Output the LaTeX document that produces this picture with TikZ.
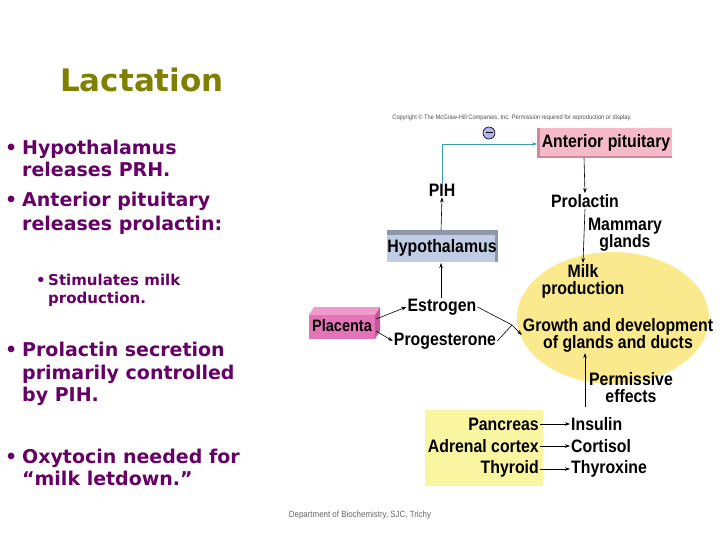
\documentclass[tikz,border=0pt]{standalone}
\usepackage{fontspec}
\usetikzlibrary{arrows.meta}
\newfontfamily\dfont[FakeStretch=0.88]{Liberation Sans}
\newfontfamily\lfont{DejaVu Sans}
\definecolor{olivet}{HTML}{7F7F00}
\definecolor{purp}{HTML}{660066}
\definecolor{appink}{HTML}{F6B9C9}
\definecolor{apdark}{HTML}{C98A9C}
\definecolor{hyblue}{HTML}{C0CCE3}
\definecolor{hydark}{HTML}{8C97AD}
\definecolor{plfront}{HTML}{E474B6}
\definecolor{pltop}{HTML}{EE9ACB}
\definecolor{plside}{HTML}{C2579A}
\definecolor{milky}{HTML}{FBE98D}
\definecolor{paley}{HTML}{FAF5A0}
\definecolor{teal1}{HTML}{3A9BAE}
\begin{document}
\begin{tikzpicture}[x=1pt,y=-1pt,
  lbl/.style={font=\dfont\bfseries\fontsize{18}{17}\selectfont, inner sep=1pt, align=center},
  bul/.style={anchor=base west, inner sep=0pt, text=purp, font=\lfont\bfseries\fontsize{19}{19}\selectfont},
  sbul/.style={anchor=base west, inner sep=0pt, text=purp, font=\lfont\bfseries\fontsize{15}{15}\selectfont},
  arr/.style={-{Stealth[length=5pt,width=3.5pt]}, line width=0.6pt},
  ln/.style={line width=0.6pt}]
\useasboundingbox (0,0) rectangle (720,540);
% title
\node[anchor=base, text=olivet, font=\lfont\bfseries\fontsize{31}{31}\selectfont, inner sep=0pt] (title) at (142,92) {Lactation};
% left bullets
\node[bul] (b1a) at (5,155) {•};
\node[bul] (t1a) at (22,155) {Hypothalamus};
\node[bul] (t1b) at (22,177) {releases PRH.};
\node[bul] (b2a) at (5,207) {•};
\node[bul] (t2a) at (22,207) {Anterior pituitary};
\node[bul] (t2b) at (22,230) {releases prolactin:};
\node[sbul] (b3a) at (36,285) {•};
\node[sbul] (t3a) at (48,285) {Stimulates milk};
\node[sbul] (t3b) at (48,303) {production.};
\node[bul] (b4a) at (5,356) {•};
\node[bul] (t4a) at (22,356) {Prolactin secretion};
\node[bul] (t4b) at (22,379) {primarily controlled};
\node[bul] (t4c) at (22,401) {by PIH.};
\node[bul] (b5a) at (5,463) {•};
\node[bul] (t5a) at (22,463) {Oxytocin needed for};
\node[bul] (t5b) at (22,485) {“milk letdown.”};
% copyright
\node[font=\dfont\fontsize{6.5}{6.5}\selectfont, text=black!70, inner sep=0pt] (copy) at (512,118) {Copyright © The McGraw-Hill Companies, Inc. Permission required for reproduction or display.};
% anterior pituitary box
\fill[apdark] (537,128) rectangle (672,158);
\fill[appink] (540,128) rectangle (672,156);
\node[lbl] (ap) at (606,143) {Anterior pituitary};
\coordinate (apw) at (537,144);
\coordinate (aps) at (584,158);
% minus
\node[circle, draw=black, fill=black!25!blue!30!white, minimum size=12pt, inner sep=0pt, line width=0.6pt] (minus) at (489,133) {};
\draw[line width=1pt] (485.5,133) -- (492.5,133);
% hypothalamus box
\fill[hydark] (387,230) rectangle (498,262);
\fill[hyblue] (387,235) rectangle (495,262);
\node[lbl] (hyp) at (442,248) {Hypothalamus};
\coordinate (hypn) at (441,230);
\coordinate (hyps) at (441,263);
% PIH
\node[lbl] (pih) at (442,190) {PIH};
% placenta box
\fill[pltop] (309,315) -- (314,307) -- (380,307) -- (375,315) -- cycle;
\fill[plside] (375,315) -- (380,307) -- (380,331) -- (375,339) -- cycle;
\fill[plfront] (309,315) rectangle (375,339);
\node[lbl, font=\dfont\bfseries\fontsize{16.5}{16}\selectfont, inner sep=0pt] (plac) at (342,326) {Placenta};
\coordinate (placa) at (376,319);
\coordinate (placb) at (376,331);
% estrogen, progesterone
\node[lbl] (estr) at (442,307) {Estrogen};
\node[lbl] (prog) at (445,341) {Progesterone};
\coordinate (merge) at (512,325);
% ellipse
\fill[milky] (613,318) ellipse [x radius=96, y radius=66];
\node[lbl] (prol) at (585,201) {Prolactin};
\node[lbl] (mam) at (625,235) {Mammary\\glands};
\node[lbl] (milk) at (583,281) {Milk\\production};
\node[lbl] (grow) at (618,335) {Growth and development\\of glands and ducts};
\node[lbl] (perm) at (631,388) {Permissive\\effects};
\coordinate (permb) at (585,407);
% yellow rect
\fill[paley] (425,410) rectangle (543,486);
\node[lbl, anchor=east] (panc) at (540,424) {Pancreas};
\node[lbl, anchor=east] (adre) at (540,446) {Adrenal cortex};
\node[lbl, anchor=east] (thyr) at (540,469) {Thyroid};
\node[lbl, anchor=west] (insu) at (570,424) {Insulin};
\node[lbl, anchor=west] (cort) at (570,446) {Cortisol};
\node[lbl, anchor=west] (thyx) at (570,469) {Thyroxine};
% footer
\node[font=\dfont\fontsize{9}{9}\selectfont, text=black!60, inner sep=0pt] (foot) at (360,515) {Department of Biochemistry, SJC, Trichy};
% connectors
\draw[arr, teal1] (pih.north) |- (apw);
\draw[arr] (hypn) -- (pih.south);
\draw[arr] (estr.north -| hyps) -- (hyps);
\draw[arr] (aps) -- (prol.north);
\draw[arr] (prol.south) -- (milk.north);
\draw[arr] (placa) -- (estr.west);
\draw[arr] (placb) -- (prog.west);
\draw[ln] (estr.east) -- (merge);
\draw[ln] (prog.east) -- (merge);
\draw[arr] (merge) -- (grow.west);
\draw[arr] (permb) -- (permb |- grow.south);
\draw[arr] (panc.east) -- (insu.west);
\draw[arr] (adre.east) -- (cort.west);
\draw[arr] (thyr.east) -- (thyx.west);
\end{tikzpicture}
\end{document}
